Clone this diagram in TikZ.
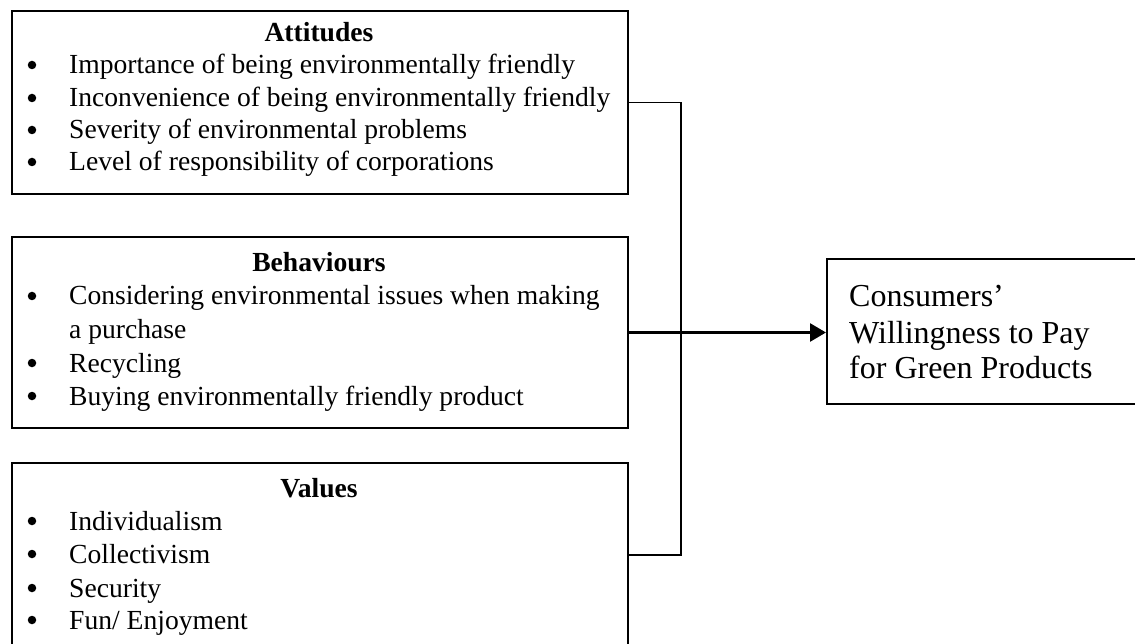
\documentclass[tikz,border=0pt]{standalone}
\usepackage{fontspec}
\setmainfont{Liberation Serif}
\usetikzlibrary{arrows.meta}
\begin{document}
\begin{tikzpicture}[x=1pt,y=-1pt,
  box/.style={draw, line width=2pt, rectangle, anchor=north west, inner sep=0pt, minimum width=616pt},
  txt/.style={anchor=base west, inner sep=0pt, font=\fontsize{27.6}{33}\selectfont},
  hd/.style={anchor=base, inner sep=0pt, font=\fontsize{27.6}{33}\selectfont\bfseries},
  bul/.style={circle, fill, inner sep=0pt, minimum size=8.5pt},
  ctx/.style={anchor=base west, inner sep=0pt, font=\fontsize{32}{36}\selectfont},
  link/.style={line width=1.8pt},
]
\useasboundingbox (0,0) rectangle (1135,644);
\clip (0,0) rectangle (1135,644);
\fill[white] (0,0) rectangle (1135,644);

% boxes
\node[box, minimum height=183pt] (att) at (11,10) {};
\node[box, minimum height=191pt] (beh) at (11,236) {};
\node[box, minimum height=184pt] (val) at (11,462) {};
\node[draw, line width=2pt, rectangle, anchor=north west, inner sep=0pt,
      minimum width=330pt, minimum height=145pt] (cons) at (826,258) {};

% Attitudes
\node[hd] (atth) at (319,42) {Attitudes};
\node[bul] (ab1) at (32,65) {};
\node[txt] (at1) at (69,74) {Importance of being environmentally friendly};
\node[bul] (ab2) at (32,98) {};
\node[txt] (at2) at (69,107) {Inconvenience of being environmentally friendly};
\node[bul] (ab3) at (32,130) {};
\node[txt] (at3) at (69,139) {Severity of environmental problems};
\node[bul] (ab4) at (32,162) {};
\node[txt] (at4) at (69,171) {Level of responsibility of corporations};

% Behaviours
\node[hd] (behh) at (319,272) {Behaviours};
\node[bul] (bb1) at (32,296) {};
\node[txt] (bt1) at (69,305) {Considering environmental issues when making};
\node[txt] (bt1b) at (69,338) {a purchase};
\node[bul] (bb2) at (32,363) {};
\node[txt] (bt2) at (69,372) {Recycling};
\node[bul] (bb3) at (32,396) {};
\node[txt] (bt3) at (69,405) {Buying environmentally friendly product};

% Values
\node[hd] (valh) at (319,497) {Values};
\node[bul] (vb1) at (32,521) {};
\node[txt] (vt1) at (69,530) {Individualism};
\node[bul] (vb2) at (32,554) {};
\node[txt] (vt2) at (69,563) {Collectivism};
\node[bul] (vb3) at (32,588) {};
\node[txt] (vt3) at (69,597) {Security};
\node[bul] (vb4) at (32,620) {};
\node[txt] (vt4) at (69,629) {Fun/ Enjoyment};

% Consumers
\node[ctx] (c1) at (849,307) {Consumers’};
\node[ctx] (c2) at (849,343) {Willingness to Pay};
\node[ctx] (c3) at (849,378) {for Green Products};

% connectors
\coordinate (bus) at (681,0);
\draw[link] (att.east) -- (att.east -| bus) -- (val.east -| bus) -- (val.east);
\draw[line width=2.7pt, -{Triangle[length=16pt,width=18pt]}] (beh.east) -- (beh.east -| cons.west);
\end{tikzpicture}
\end{document}
